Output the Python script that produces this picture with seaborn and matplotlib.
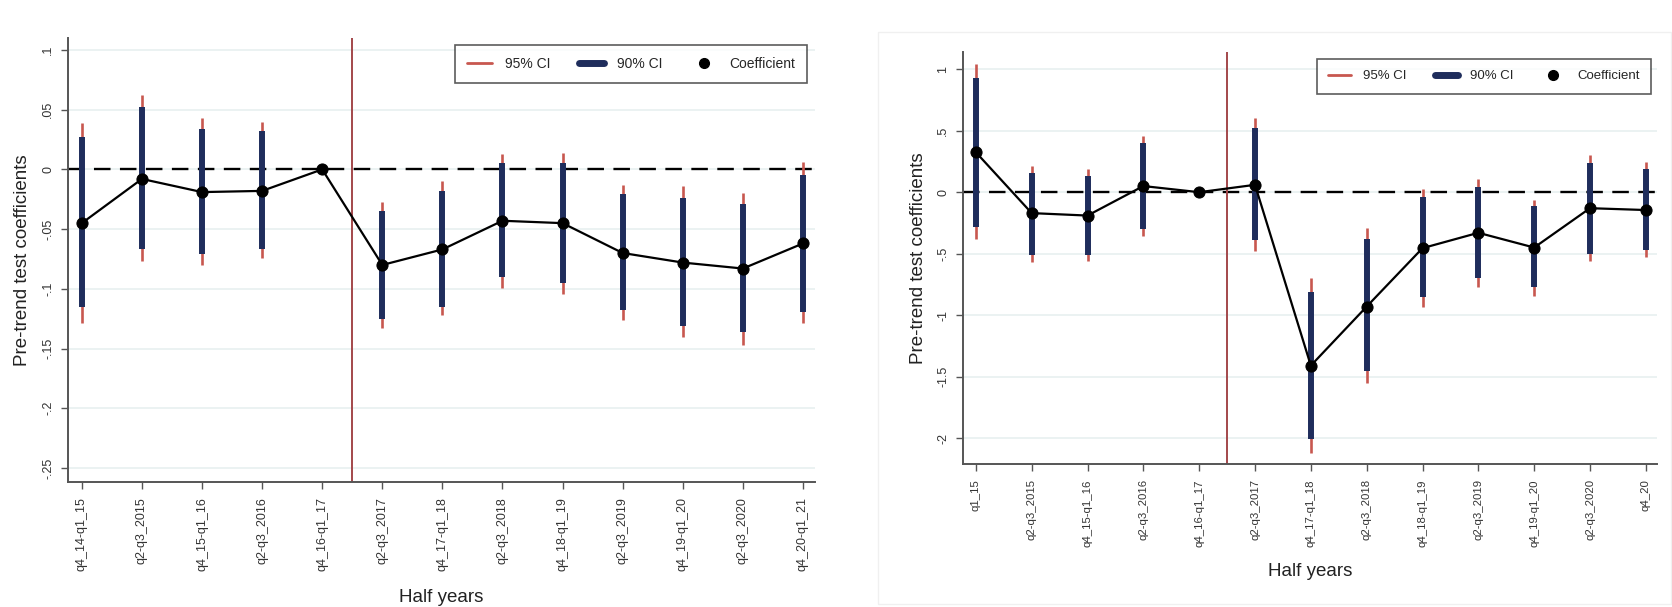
import numpy as np
import pandas as pd
import seaborn as sns
import matplotlib
matplotlib.use("Agg")
import matplotlib.pyplot as plt
from matplotlib.lines import Line2D
from matplotlib.patches import Rectangle

# ---------------- data ----------------
left_labels = ["q4_14-q1_15", "q2-q3_2015", "q4_15-q1_16", "q2-q3_2016", "q4_16-q1_17",
               "q2-q3_2017", "q4_17-q1_18", "q2-q3_2018", "q4_18-q1_19", "q2-q3_2019",
               "q4_19-q1_20", "q2-q3_2020", "q4_20-q1_21"]
left_coef = [-0.045, -0.008, -0.019, -0.018, 0.0, -0.080, -0.067, -0.043, -0.045, -0.070, -0.078, -0.083, -0.062]
left_lo95 = [-0.129, -0.077, -0.080, -0.074, 0.0, -0.133, -0.122, -0.099, -0.104, -0.126, -0.140, -0.147, -0.129]
left_hi95 = [0.039, 0.062, 0.043, 0.040, 0.0, -0.027, -0.010, 0.013, 0.014, -0.013, -0.014, -0.020, 0.006]
left_lo90 = [-0.115, -0.067, -0.071, -0.067, 0.0, -0.125, -0.115, -0.090, -0.095, -0.118, -0.131, -0.136, -0.119]
left_hi90 = [0.027, 0.052, 0.034, 0.032, 0.0, -0.035, -0.018, 0.005, 0.005, -0.021, -0.024, -0.029, -0.005]
left_yticks = [0.1, 0.05, 0.0, -0.05, -0.1, -0.15, -0.2, -0.25]
left_yticklabels = [".1", ".05", "0", "-.05", "-.1", "-.15", "-.2", "-.25"]

right_labels = ["q1_15", "q2-q3_2015", "q4_15-q1_16", "q2-q3_2016", "q4_16-q1_17",
                "q2-q3_2017", "q4_17-q1_18", "q2-q3_2018", "q4_18-q1_19", "q2-q3_2019",
                "q4_19-q1_20", "q2-q3_2020", "q4_20"]
right_coef = [0.325, -0.17, -0.19, 0.05, 0.0, 0.06, -1.41, -0.93, -0.455, -0.33, -0.45, -0.13, -0.145]
right_lo95 = [-0.38, -0.57, -0.56, -0.36, 0.0, -0.48, -2.12, -1.55, -0.93, -0.77, -0.84, -0.56, -0.53]
right_hi95 = [1.04, 0.21, 0.185, 0.46, 0.0, 0.60, -0.70, -0.29, 0.03, 0.11, -0.06, 0.30, 0.245]
right_lo90 = [-0.28, -0.51, -0.51, -0.30, 0.0, -0.39, -2.01, -1.45, -0.85, -0.70, -0.77, -0.50, -0.47]
right_hi90 = [0.93, 0.155, 0.13, 0.40, 0.0, 0.52, -0.81, -0.38, -0.04, 0.04, -0.11, 0.235, 0.185]
right_yticks = [1.0, 0.5, 0.0, -0.5, -1.0, -1.5, -2.0]
right_yticklabels = ["1", ".5", "0", "-.5", "-1", "-1.5", "-2"]

treat_pos = 4.5
legend_labels = ["95% CI", "90% CI", "Coefficient"]

# ---------------- style ----------------
sns.set_style("white")
plt.rcParams["font.family"] = ["Liberation Sans", "DejaVu Sans"]

RED = "#c8574f"
NAVY = "#1f2d5c"
VLINE = "#a3474b"
GRID = "#e8f0f0"
SPINE = "#555555"

fig = plt.figure(figsize=(16.72, 6.07), dpi=100)
W, H = 1672, 607


def px_axes(x0, y0, x1, y1):
    return fig.add_axes([x0 / W, 1 - y1 / H, (x1 - x0) / W, (y1 - y0) / H])


# faint graph-region border on right panel
fig.add_artist(Rectangle((878 / W, 1 - 604 / H), (1671 - 878) / W, (604 - 32) / H,
                         transform=fig.transFigure, fill=False, edgecolor="#f0f0f0", lw=1))

axL = px_axes(68, 38, 815, 482)
axR = px_axes(963, 52, 1657, 464)


def draw(ax, labels, coef, lo95, hi95, lo90, hi90, yticks, yticklabels, ylim,
         legend_anchor, xfs, legfs):
    n = len(labels)
    df = pd.DataFrame({"x": np.arange(n), "coef": coef, "lo95": lo95, "hi95": hi95,
                       "lo90": lo90, "hi90": hi90})
    ci = df[df["lo95"] != df["hi95"]]
    for y in yticks:
        ax.axhline(y, color=GRID, lw=1.2, zorder=0)
    ax.vlines(ci["x"], ci["lo95"], ci["hi95"], color=RED, lw=1.9, zorder=2)
    ax.vlines(ci["x"], ci["lo90"], ci["hi90"], color=NAVY, lw=4.3, zorder=3)
    ax.axhline(0, color="black", lw=1.7, ls=(0, (7, 4)), zorder=1)
    ax.axvline(treat_pos, color=VLINE, lw=1.4, zorder=1)
    sns.lineplot(data=df, x="x", y="coef", ax=ax, color="black", lw=1.6,
                 marker="o", markersize=8, markeredgecolor="black", zorder=4)
    ax.set_xlim(-0.23, n - 1 + 0.2)
    ax.set_ylim(*ylim)
    ax.set_xticks(np.arange(n))
    ax.set_xticklabels(labels, rotation=90, fontsize=xfs, color="#333333")
    ax.set_yticks(yticks)
    ax.set_yticklabels(yticklabels, rotation=90, fontsize=9, color="#333333", va="center")
    ax.tick_params(axis="both", direction="out", length=5, width=1, color=SPINE, bottom=True, left=True)
    ax.tick_params(axis="x", pad=6)
    ax.tick_params(axis="y", pad=5)
    for s in ["top", "right"]:
        ax.spines[s].set_visible(False)
    for s in ["left", "bottom"]:
        ax.spines[s].set_color(SPINE)
        ax.spines[s].set_linewidth(1.4)
    ax.set_xlabel("Half years", fontsize=13.5, color="#222222")
    ax.set_ylabel("Pre-trend test coefficients", fontsize=13.5, color="#222222")
    handles = [Line2D([], [], color=RED, lw=2),
               Line2D([], [], color=NAVY, lw=5),
               Line2D([], [], color="black", lw=0, marker="o", markersize=7)]
    leg = ax.legend(handles, legend_labels, loc="upper right", bbox_to_anchor=legend_anchor,
                    ncol=3, frameon=True, fancybox=False, fontsize=legfs, handlelength=1.8,
                    columnspacing=2.1, borderpad=0.85, borderaxespad=0, handletextpad=0.9)
    leg.get_frame().set_edgecolor("#333333")
    leg.get_frame().set_linewidth(1.2)


draw(axL, left_labels, left_coef, left_lo95, left_hi95, left_lo90, left_hi90,
     left_yticks, left_yticklabels, (-0.2617, 0.11), (0.989, 0.984), 9, 10)
draw(axR, right_labels, right_coef, right_lo95, right_hi95, right_lo90, right_hi90,
     right_yticks, right_yticklabels, (-2.21, 1.14), (0.991, 0.983), 8.2, 9.5)

axL.xaxis.set_label_coords(0.5, -0.24)
axR.xaxis.set_label_coords(0.5, -0.24)
axL.yaxis.set_label_coords(-0.05, 0.5)
axR.yaxis.set_label_coords(-0.052, 0.5)

fig.savefig("out.png", dpi=100)
